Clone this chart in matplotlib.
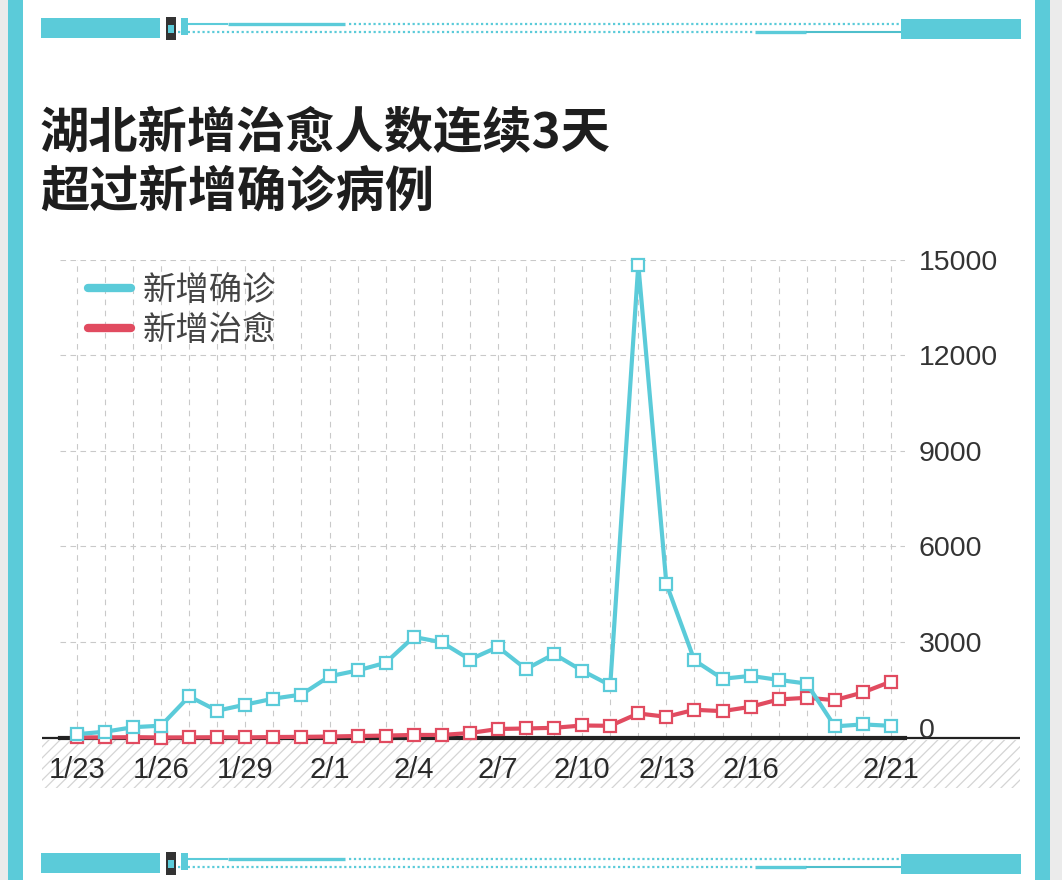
import matplotlib
matplotlib.use("Agg")
import matplotlib.pyplot as plt
from matplotlib.lines import Line2D
from matplotlib.patches import Rectangle

# ---------------- data ----------------
dates = ["1/23", "1/24", "1/25", "1/26", "1/27", "1/28", "1/29", "1/30", "1/31",
         "2/1", "2/2", "2/3", "2/4", "2/5", "2/6", "2/7", "2/8", "2/9", "2/10",
         "2/11", "2/12", "2/13", "2/14", "2/15", "2/16", "2/17", "2/18", "2/19",
         "2/20", "2/21"]
confirmed = [105, 180, 323, 371, 1291, 840, 1032, 1220, 1347, 1921, 2103, 2345,
             3156, 2987, 2447, 2841, 2147, 2618, 2097, 1638, 14840, 4823, 2420,
             1843, 1933, 1807, 1693, 349, 411, 366]
cured = [3, 1, 11, 0, 2, 9, 2, 15, 20, 30, 47, 60, 80, 80, 140, 267, 283, 304,
         377, 367, 754, 650, 870, 827, 963, 1194, 1246, 1173, 1414, 1754]
shown_dates = ["1/23", "1/26", "1/29", "2/1", "2/4", "2/7", "2/10", "2/13", "2/16", "2/21"]
y_ticks = [0, 3000, 6000, 9000, 12000, 15000]
series_names = ["新增确诊", "新增治愈"]
title_lines = ["湖北新增治愈人数连续3天", "超过新增确诊病例"]

CYAN = "#5BCBD9"
RED = "#E14B60"
GRID = "#c9c9c9"
CJK = ["Noto Sans CJK SC", "DejaVu Sans"]
NUM = ["Liberation Sans", "DejaVu Sans"]

W, H = 1062, 880
plt.rcParams["hatch.linewidth"] = 0.9
fig = plt.figure(figsize=(W / 100, H / 100), dpi=100)
fig.patch.set_facecolor("white")

# overlay axes in pixel coordinates for decorations
ov = fig.add_axes([0, 0, 1, 1], zorder=0)
ov.set_xlim(0, W)
ov.set_ylim(H, 0)
ov.axis("off")
ov.patch.set_alpha(0)

# side borders
ov.add_patch(Rectangle((0, 0), 8, H, color="#ebebeb", lw=0))
ov.add_patch(Rectangle((8, 0), 15, H, color=CYAN, lw=0))
ov.add_patch(Rectangle((1035, 0), 15, H, color=CYAN, lw=0))
ov.add_patch(Rectangle((1050, 0), 12, H, color="#ebebeb", lw=0))


def deco(y0):
    # y0 = top of blocks
    ov.add_patch(Rectangle((41, y0), 119, 20, color=CYAN, lw=0))
    ov.add_patch(Rectangle((901, y0 + 1), 120, 20, color=CYAN, lw=0))
    ov.add_patch(Rectangle((166, y0 - 1), 10, 23, color="#333333", lw=0))
    ov.add_patch(Rectangle((168, y0 + 7), 6, 8, color=CYAN, lw=0))
    ov.add_patch(Rectangle((181, y0), 7, 17, color=CYAN, lw=0))
    # upper line
    ov.plot([188, 228], [y0 + 6, y0 + 6], color=CYAN, lw=1.5, solid_capstyle="butt")
    ov.plot([228, 345], [y0 + 6, y0 + 6], color=CYAN, lw=2.4, solid_capstyle="butt")
    ov.plot([349, 900], [y0 + 6, y0 + 6], color=CYAN, lw=1.6, ls=(0, (1, 1.2)))
    # lower line
    ov.plot([178, 753], [y0 + 14, y0 + 14], color=CYAN, lw=1.6, ls=(0, (1, 1.2)))
    ov.plot([755, 806], [y0 + 14, y0 + 14], color=CYAN, lw=2.4, solid_capstyle="butt")
    ov.plot([806, 901], [y0 + 14, y0 + 14], color="#4fbfcc", lw=1.5, solid_capstyle="butt")


deco(18)
deco(853)

# hatched band under axis
ov.add_patch(Rectangle((42, 740), 978, 48, facecolor="white", edgecolor="#d4d4d4",
                       hatch="///", lw=0))
ov.plot([42, 1020], [738, 738], color="#222222", lw=1.6, solid_capstyle="butt")

# title
fig.text(40 / W, 1 - 148 / H, title_lines[0], family=CJK, weight="bold",
         fontsize=35.5, color="#1e1e1e", va="baseline", ha="left")
fig.text(40 / W, 1 - 207 / H, title_lines[1], family=CJK, weight="bold",
         fontsize=35.5, color="#1e1e1e", va="baseline", ha="left")

# ---------------- main chart ----------------
ax = fig.add_axes([60 / W, (H - 737.5) / H, 845 / W, (737.5 - 259.5) / H], zorder=2)
ax.patch.set_alpha(0)
x = list(range(len(dates)))
ax.set_xlim(-0.6, 29.5)
ax.set_ylim(0, 15000)

for i in x:
    ax.axvline(i, color=GRID, lw=0.8, ls=(0, (5, 5)), zorder=0)
for v in y_ticks[1:]:
    ax.axhline(v, color=GRID, lw=0.8, ls=(0, (5, 4)), zorder=0)

ax.plot(x, cured, color=RED, lw=3, marker="s", ms=8, mfc="white", mec=RED,
        mew=1.6, clip_on=False, zorder=3)
ax.plot(x, confirmed, color=CYAN, lw=3, marker="s", ms=8, mfc="white", mec=CYAN,
        mew=1.6, clip_on=False, zorder=4)

for s in ["top", "left", "right"]:
    ax.spines[s].set_visible(False)
ax.spines["bottom"].set_color("#222222")
ax.spines["bottom"].set_linewidth(3)
ax.spines["bottom"].set_zorder(2)

ax.set_xticks([dates.index(d) for d in shown_dates])
ax.set_xticklabels(shown_dates, family=NUM, fontsize=21, color="#2a2a2a")
ax.tick_params(axis="x", length=0, pad=13)

ax.yaxis.tick_right()
ax.set_yticks(y_ticks)
ax.set_yticklabels([str(v) for v in y_ticks], family=NUM, fontsize=20.5, color="#333333")
ax.tick_params(axis="y", length=0, pad=10)
ax.get_yticklabels()[0].set_va("baseline")

handles = [Line2D([], [], color=CYAN, lw=6, solid_capstyle="round"),
           Line2D([], [], color=RED, lw=6, solid_capstyle="round")]
leg = fig.legend(handles, series_names, loc="upper left",
                 bbox_to_anchor=(88 / W, 1 - 273 / H), frameon=False,
                 prop={"family": CJK, "size": 24},
                 handlelength=1.3, handletextpad=0.35, labelspacing=0.15,
                 borderpad=0, borderaxespad=0)
for t in leg.get_texts():
    t.set_color("#444444")

fig.savefig("out.png", dpi=100, facecolor="white")
